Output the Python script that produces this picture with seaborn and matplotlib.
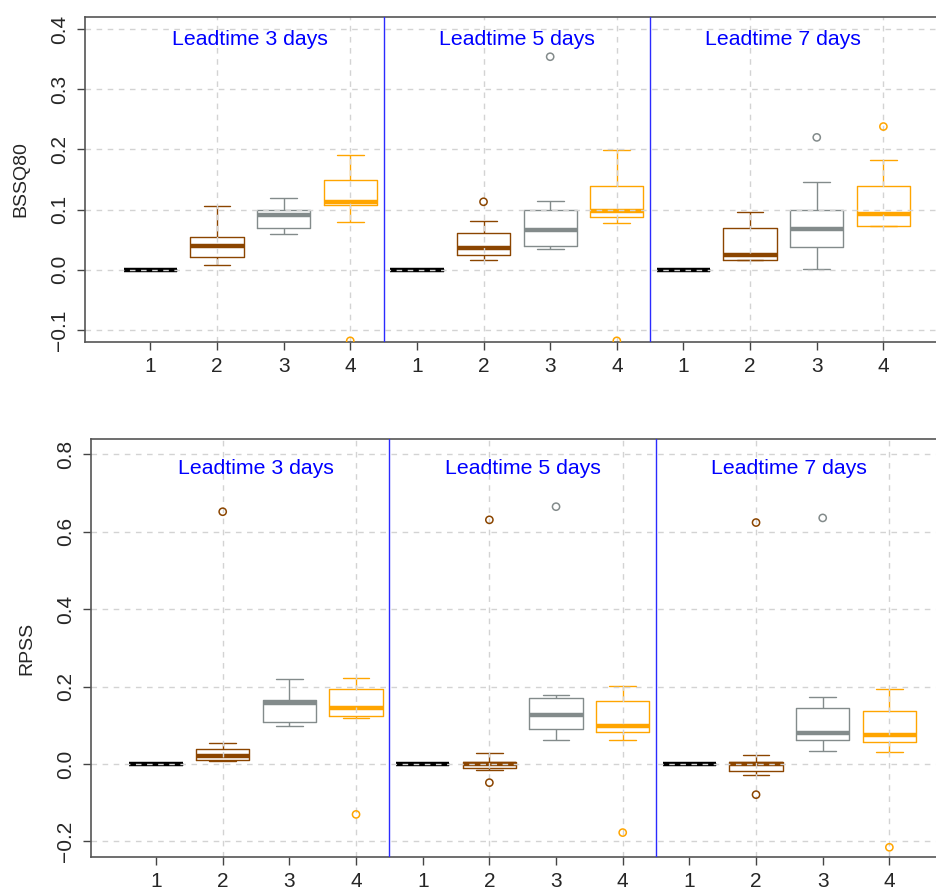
import matplotlib
matplotlib.use("Agg")
import matplotlib.pyplot as plt
import numpy as np
import pandas as pd
import seaborn as sns

sns.set_style("ticks")
plt.rcParams['font.family'] = ['Liberation Sans', 'DejaVu Sans']

leads = ["3", "5", "7"]
models = ["1", "2", "3", "4"]
colors = ["#000000", "#8B4500", "#838B8B", "#FFA500"]

# five-number summaries (low whisker, Q1, median, Q3, high whisker), one row per model
bssq80_lt3 = [[0, 0, 0, 0, 0],
              [0.008, 0.022, 0.040, 0.055, 0.106],
              [0.060, 0.070, 0.091, 0.100, 0.119],
              [0.079, 0.107, 0.113, 0.149, 0.191]]
bssq80_lt5 = [[0, 0, 0, 0, 0],
              [0.017, 0.025, 0.036, 0.061, 0.081],
              [0.034, 0.040, 0.066, 0.099, 0.115],
              [0.078, 0.087, 0.098, 0.140, 0.199]]
bssq80_lt7 = [[0, 0, 0, 0, 0],
              [0.016, 0.016, 0.025, 0.070, 0.096],
              [0.002, 0.038, 0.068, 0.099, 0.146],
              [0.073, 0.073, 0.093, 0.139, 0.182]]
bssq80_out_lead = ["3", "5", "5", "5", "7", "7"]
bssq80_out_model = ["4", "2", "3", "4", "3", "4"]
bssq80_out_value = [-0.118, 0.113, 0.354, -0.118, 0.220, 0.238]

rpss_lt3 = [[0, 0, 0, 0, 0],
            [0.007, 0.010, 0.021, 0.038, 0.054],
            [0.099, 0.108, 0.159, 0.166, 0.219],
            [0.118, 0.125, 0.145, 0.195, 0.223]]
rpss_lt5 = [[0, 0, 0, 0, 0],
            [-0.015, -0.009, 0.000, 0.006, 0.028],
            [0.062, 0.090, 0.127, 0.171, 0.179],
            [0.061, 0.082, 0.098, 0.163, 0.202]]
rpss_lt7 = [[0, 0, 0, 0, 0],
            [-0.028, -0.017, 0.000, 0.005, 0.023],
            [0.035, 0.061, 0.081, 0.145, 0.174],
            [0.032, 0.056, 0.076, 0.138, 0.193]]
rpss_out_lead = ["3", "3", "5", "5", "5", "5", "7", "7", "7", "7"]
rpss_out_model = ["2", "4", "2", "2", "3", "4", "2", "2", "3", "4"]
rpss_out_value = [0.652, -0.130, 0.631, -0.048, 0.665, -0.177, 0.624, -0.079, 0.636, -0.215]

order = [f"{l}-{m}" for l in leads for m in models]


def box_frame(per_lead):
    rows = []
    for lead, boxes in zip(leads, per_lead):
        for model, vals in zip(models, boxes):
            for v in vals:
                rows.append({"cat": f"{lead}-{model}", "model": model, "value": v})
    return pd.DataFrame(rows)


def out_frame(lead, model, value):
    return pd.DataFrame({"cat": [f"{l}-{m}" for l, m in zip(lead, model)],
                         "model": model, "value": value})


def draw_panel(ax, boxes, outs, ylabel, yticks, ylim):
    sns.boxplot(data=boxes, x="cat", y="value", hue="model", order=order,
                hue_order=models, palette=colors, fill=False, dodge=False,
                width=0.8, whis=(0, 100), linewidth=1.0,
                medianprops=dict(linewidth=3.2), legend=False, ax=ax)
    sns.stripplot(data=outs, x="cat", y="value", hue="model", order=order,
                  hue_order=models, palette=colors, jitter=False, dodge=False,
                  size=5.2, linewidth=1.1, legend=False, ax=ax, zorder=3)
    for c in ax.collections:
        fc = c.get_facecolors()
        c.set_edgecolors(fc)
        c.set_facecolors("none")

    ax.set_xlim(-0.98, 11.98)
    ax.set_ylim(*ylim)
    ax.set_xticks(range(12))
    ax.set_xticklabels(models * 3)
    ax.set_yticks(yticks)
    ax.set_yticklabels([f"{t:.1f}".replace("-", "\u2212") for t in yticks])

    # R-style grid, drawn over the boxes: every second box and every y tick
    grid_kw = dict(color="#d3d3d3", lw=1.0, ls=(0, (4, 4)), zorder=2.5)
    for xv in ax.get_xticks()[1::2]:
        ax.axvline(xv, **grid_kw)
    for yv in yticks:
        ax.axhline(yv, **grid_kw)

    for xv in [3.5, 7.5]:
        ax.axvline(xv, color="#2b2bff", lw=1.0, zorder=4)
    for i, lead in enumerate(leads):
        ax.text(4 * i + 1.5, 0.93, f"Leadtime {lead} days", color="#0000ff",
                fontsize=15.3, ha="center", va="center",
                transform=ax.get_xaxis_transform())

    ax.tick_params(axis="both", which="major", length=6, width=1.0,
                   color="#444444", labelsize=15)
    ax.tick_params(axis="x", pad=4.5)
    ax.tick_params(axis="y", pad=5.5, labelrotation=90)
    for lab in ax.get_yticklabels():
        lab.set_va("center")
    ax.set_xlabel("")
    ax.set_ylabel(ylabel, fontsize=14, va="center")
    ax.yaxis.set_label_coords(-0.074, 0.5)
    for s in ["left", "top", "bottom"]:
        ax.spines[s].set_color("#555555")
        ax.spines[s].set_linewidth(1.2)
    ax.spines["right"].set_visible(False)


fig = plt.figure(figsize=(9.37, 8.90), dpi=100)
ax1 = fig.add_axes([0.0907, 0.6157, 0.9218, 0.3652])
ax2 = fig.add_axes([0.0968, 0.0371, 0.9221, 0.4697])

draw_panel(ax1, box_frame([bssq80_lt3, bssq80_lt5, bssq80_lt7]),
           out_frame(bssq80_out_lead, bssq80_out_model, bssq80_out_value),
           "BSSQ80", [-0.1, 0.0, 0.1, 0.2, 0.3, 0.4], (-0.12, 0.42))
draw_panel(ax2, box_frame([rpss_lt3, rpss_lt5, rpss_lt7]),
           out_frame(rpss_out_lead, rpss_out_model, rpss_out_value),
           "RPSS", [-0.2, 0.0, 0.2, 0.4, 0.6, 0.8], (-0.24, 0.84))

fig.savefig("out.png", dpi=100)
